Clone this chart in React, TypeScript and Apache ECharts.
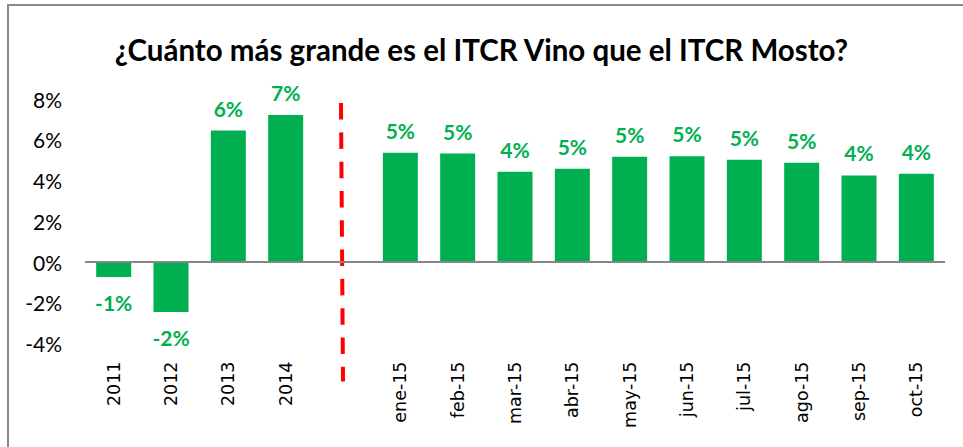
import React, { useEffect, useRef } from "react";
import * as echarts from "echarts";

const categories = ["2011", "2012", "2013", "2014", "", "ene-15", "feb-15", "mar-15", "abr-15", "may-15", "jun-15", "jul-15", "ago-15", "sep-15", "oct-15"];
const values: (number | null)[] = [-0.74, -2.46, 6.45, 7.22, null, 5.36, 5.32, 4.43, 4.58, 5.16, 5.19, 5.02, 4.87, 4.25, 4.33];
const yTicks = { min: -4, max: 8, interval: 2 };
const separatorIndex = 4;
const titleText = "¿Cuánto más grande es el ITCR Vino que el ITCR Mosto?";

const GREEN = "#00B050";

export default function App() {
  const ref = useRef<HTMLDivElement>(null);
  useEffect(() => {
    if (!ref.current) return;
    const chart = echarts.init(ref.current, null, { renderer: "svg" });
    const data = values.map((v) =>
      v === null
        ? null
        : {
            value: v,
            label: {
              position: v < 0 ? "bottom" : "top",
              distance: v < 0 ? 15 : 12,
            },
          }
    );
    chart.setOption({
      animation: false,
      backgroundColor: "#ffffff",
      title: {
        text: titleText,
        left: "center",
        top: 29,
        textStyle: { fontFamily: "Lato", fontWeight: "bold", fontSize: 29.5, color: "#000" },
      },
      grid: { left: 85, right: 18, top: 99, bottom: 103.5 },
      xAxis: {
        type: "category",
        data: categories,
        axisLine: { show: false, onZero: false },
        axisTick: { show: false },
        axisLabel: {
          rotate: 90,
          margin: 18,
          interval: 0,
          fontFamily: "DejaVu Sans",
          fontSize: 17.5,
          color: "#000",
        },
      },
      yAxis: {
        type: "value",
        min: yTicks.min,
        max: yTicks.max,
        interval: yTicks.interval,
        splitLine: { show: false },
        axisLine: { show: false },
        axisTick: { show: false },
        axisLabel: {
          margin: 23,
          fontFamily: "Lato",
          fontSize: 21,
          color: "#000",
          formatter: (v: number) => `${v}%`,
        },
      },
      series: [
        {
          type: "bar",
          data,
          barWidth: 35,
          itemStyle: { color: GREEN },
          label: {
            show: true,
            color: GREEN,
            fontFamily: "Lato",
            fontWeight: "bold",
            fontSize: 21,
            formatter: (p: any) => `${Math.round(p.value)}%`,
          },
          markLine: {
            silent: true,
            symbol: "none",
            label: { show: false },
            lineStyle: { color: "#868686", width: 2, type: "solid" },
            data: [{ yAxis: 0 }],
          },
        },
      ],
    });
    const sx = chart.convertToPixel({ xAxisIndex: 0 }, separatorIndex) as number;
    const yTop = chart.convertToPixel({ yAxisIndex: 0 }, 7.8) as number;
    const yBottom = (chart.convertToPixel({ yAxisIndex: 0 }, yTicks.min) as number) + 38;
    chart.setOption({
      graphic: [
        {
          type: "rect",
          shape: { x: 8, y: 5, width: 1200, height: 1200 },
          style: { fill: "none", stroke: "#8a8a8a", lineWidth: 2 },
          silent: true,
        },
        {
          type: "line",
          shape: { x1: sx - 2, y1: yTop, x2: sx, y2: yBottom },
          style: { stroke: "#FF0000", lineWidth: 4, lineDash: [16.5, 12.8] },
          silent: true,
        },
      ],
    });
    return () => chart.dispose();
  }, []);
  return (
    <div
      ref={ref}
      style={{ position: "absolute", left: 0, top: 0, width: 963, height: 447 }}
    />
  );
}
